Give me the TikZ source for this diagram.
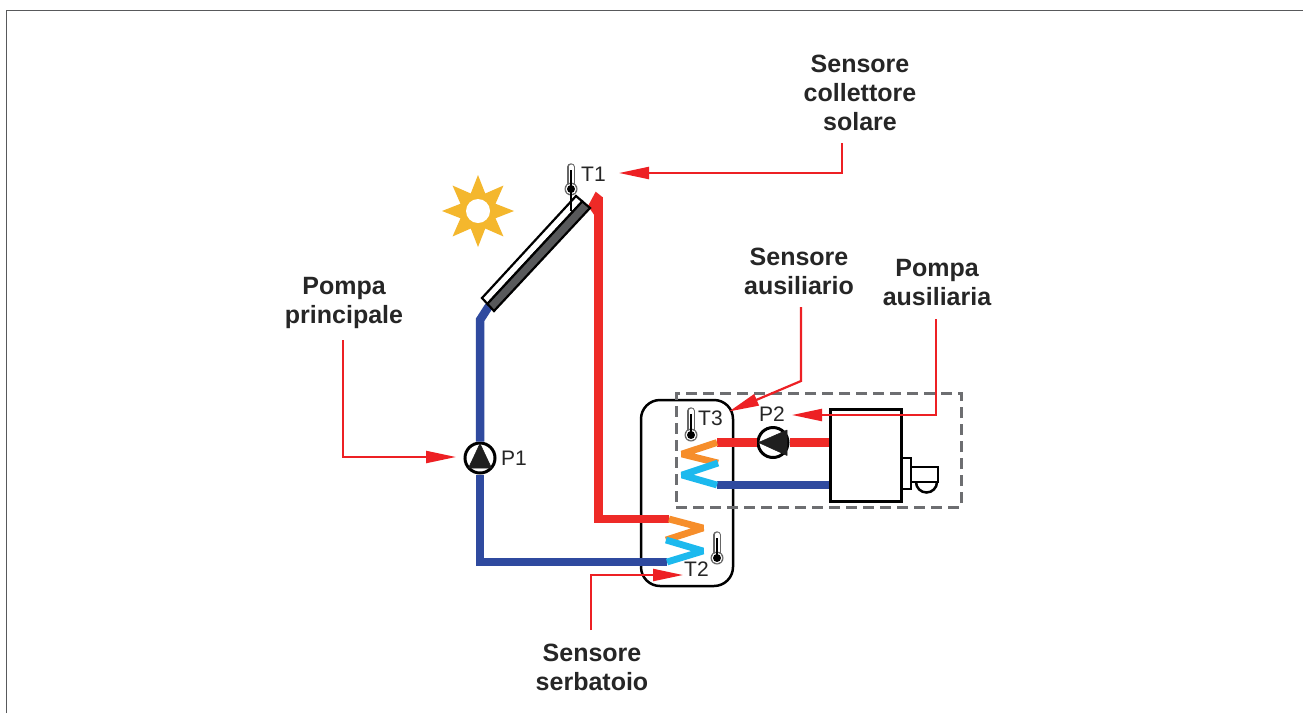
\documentclass[tikz,border=0pt]{standalone}
\usepackage{fontspec}
\setmainfont{Liberation Sans}
\usetikzlibrary{arrows.meta,shapes.geometric,calc}
\definecolor{redp}{HTML}{EE2A27}
\definecolor{bluep}{HTML}{2F4A9F}
\definecolor{orangep}{HTML}{F68E2B}
\definecolor{cyanp}{HTML}{1CB9EE}
\definecolor{leader}{HTML}{ED2024}
\definecolor{sun}{HTML}{F4B72D}
\definecolor{dashgray}{HTML}{6D6E71}
\definecolor{panel}{HTML}{58595B}
\definecolor{framec}{HTML}{58595B}
\tikzset{
  callout/.style={font=\fontsize{25}{29}\selectfont\bfseries,align=center,text=black!85,inner sep=0pt},
  tag/.style={font=\fontsize{21}{24}\selectfont,text=black!85,inner sep=0pt},
  pipe/.style={line width=8.5pt,line join=miter},
  coil/.style={line width=6.8pt,line join=bevel},
  leaderline/.style={draw=leader,line width=2.2pt,-{Triangle[length=30pt,width=12pt,fill=leader]}},
  pumpc/.style={circle,draw=black,line width=3pt,fill=white,minimum size=30pt,inner sep=0pt},
  pumpt/.style={fill=black!88,draw=black!88,line width=.5pt,line join=round},
  equip/.style={draw=black,line width=3.2pt,fill=white,inner sep=0pt},
}
\newcommand{\thermom}[4]{% name, x, top y, bulb y
  \draw[draw=black!60,line width=7.5pt,line cap=round] (#2,#3+3) -- (#2,#4);
  \draw[white,line width=5pt,line cap=round] (#2,#3+3) -- (#2,#4);
  \fill[black!60] (#2,#4) circle (6.5pt);
  \fill[white] (#2,#4) circle (5.3pt);
  \fill[black] (#2,#4) circle (4pt);
  \draw[black,line width=2pt] (#2,#3+6) -- (#2,#4);
  \coordinate (#1) at (#2,#4);
}
\begin{document}
\begin{tikzpicture}[x=1pt,y=-1pt]
\useasboundingbox (0,0) rectangle (1303,713);
\fill[white] (0,0) rectangle (1303,713);
% frame
\draw[framec,line width=1.6pt] (6.5,713) -- (6.5,10.5) -- (1303,10.5);

% sun
\node[star,star points=8,star point ratio=1.9,fill=sun,minimum size=72pt,inner sep=0pt] (sunstar) at (478,211) {};
\node[circle,fill=white,minimum size=24pt,inner sep=0pt] (suncore) at (478,211) {};

% tank and auxiliary frame
\node[draw=black,line width=2.5pt,rounded corners=19pt,minimum width=92pt,minimum height=186pt,inner sep=0pt,fill=white] (tank) at (687,493) {};
\node[draw=dashgray,line width=3pt,dash pattern=on 11pt off 6pt,minimum width=285pt,minimum height=114pt,inner sep=0pt] (auxbox) at (818.5,450) {};

% boiler
\node[equip,line width=2.6pt,minimum width=10pt,minimum height=31pt] (burnerplate) at (906,473.5) {};
\draw[black,line width=2.5pt,fill=white] (916,482) arc[start angle=180,end angle=360,radius=10.5pt];
\draw[black,line width=2.5pt] (912,467) -- (938,467) -- (938,482) -- (912,482);
\node[equip,minimum width=71pt,minimum height=92pt] (boiler) at (866,455.5) {};

% pumps
\node[pumpc] (pone) at (480,458) {};
\node[pumpc] (ptwo) at (773,442.5) {};
\node[tag,anchor=west] (lpone) at (501,458) {P1};
\node[tag,anchor=west] (lptwo) at (759,414) {P2};
\node[tag,anchor=west] (ltone) at (581,174) {T1};
\node[tag,anchor=west] (lttwo) at (684,569) {T2};
\node[tag,anchor=west] (ltthree) at (698,418) {T3};

% collector
\coordinate (cola) at (576,196);
\coordinate (colb) at (590,208);
\coordinate (colc) at (494,311);
\coordinate (cold) at (482,298);
\coordinate (colm) at ($(cola)!.45!(colb)$);
\coordinate (coln) at ($(cold)!.45!(colc)$);

% solar loop pipes
\coordinate (redtop) at (598.5,197);
\coordinate (redbend) at (598.5,519);
\coordinate (coilAin) at (669,519);
\coordinate (coilAa) at (703,528);
\coordinate (coilAb) at (666,540);
\coordinate (coilAc) at (703,551);
\coordinate (coilAout) at (667,562);
\coordinate (bluebend) at (480,562);
\coordinate (blueup) at (480,320);
\coordinate (bluecol) at (489,306);
\fill[redp] (588,206) -- (595.7,191.7) -- (602.75,197.3) -- (602.75,215) -- (594.25,215) -- cycle;
\draw[redp,pipe] (redtop) -- (redbend) -- (coilAin);
\draw[bluep,pipe] (pone.south) -- (bluebend) -- (coilAout);
\draw[bluep,pipe] (pone.north) -- (blueup) -- (bluecol);
\draw[orangep,coil] (coilAin) -- (coilAa) -- (coilAb);
\draw[cyanp,coil] (coilAb) -- (coilAc) -- (coilAout);

% collector body over pipes
\draw[black,line width=2.2pt,fill=white] (cola) -- (colm) -- (coln) -- (cold) -- cycle;
\draw[black,line width=2.2pt,fill=panel] (colm) -- (colb) -- (colc) -- (coln) -- cycle;

% auxiliary loop pipes
\coordinate (coilBin) at (717,442.5);
\coordinate (coilBa) at (682,454);
\coordinate (coilBb) at (718,463);
\coordinate (coilBc) at (682,475);
\coordinate (coilBout) at (717,485);
\draw[redp,pipe] (boiler.west |- ptwo) -- (ptwo.east);
\draw[redp,pipe] (ptwo.west) -- (coilBin);
\draw[bluep,pipe] (boiler.west |- coilBout) -- (coilBout);
\draw[orangep,coil] (coilBin) -- (coilBa) -- (coilBb);
\draw[cyanp,coil] (coilBb) -- (coilBc) -- (coilBout);

% pump triangles
\fill[pumpt] (480,443.5) -- (491.5,468) -- (468.5,468) -- cycle;
\fill[pumpt] (758.5,442.5) -- (787,430) -- (787,455.5) -- cycle;

% thermometers
\thermom{tone}{571}{164}{189}
\draw[black,line width=2.5pt] (tone) -- (571,211);
\thermom{ttwo}{717}{532}{558}
\thermom{tthree}{691}{408}{435}

% callouts
\node[callout] (csolare) at (860,93) {Sensore\\collettore\\solare};
\node[callout] (cprinc) at (344,303) {Pompa\\principale};
\node[callout] (caus) at (799,271) {Sensore\\ausiliario};
\node[callout] (cpaus) at (937,283) {Pompa\\ausiliaria};
\node[callout] (cserb) at (592,667) {Sensore\\serbatoio};

% leaders
\coordinate (endone) at (619,173);
\coordinate (endtwo) at (456,457);
\coordinate (endthree) at (729,411.5);
\coordinate (endfour) at (792,415);
\coordinate (endfive) at (683,575);
\draw[leaderline] (842,143) -- (842,173) -- (endone);
\draw[leaderline] (343,340) -- (343,457) -- (endtwo);
\draw[leaderline] (801,307) -- (801,381) -- (endthree);
\draw[leaderline] (936,319) -- (936,415) -- (endfour);
\draw[leaderline] (591,630) -- (591,575) -- (endfive);
\end{tikzpicture}
\end{document}
